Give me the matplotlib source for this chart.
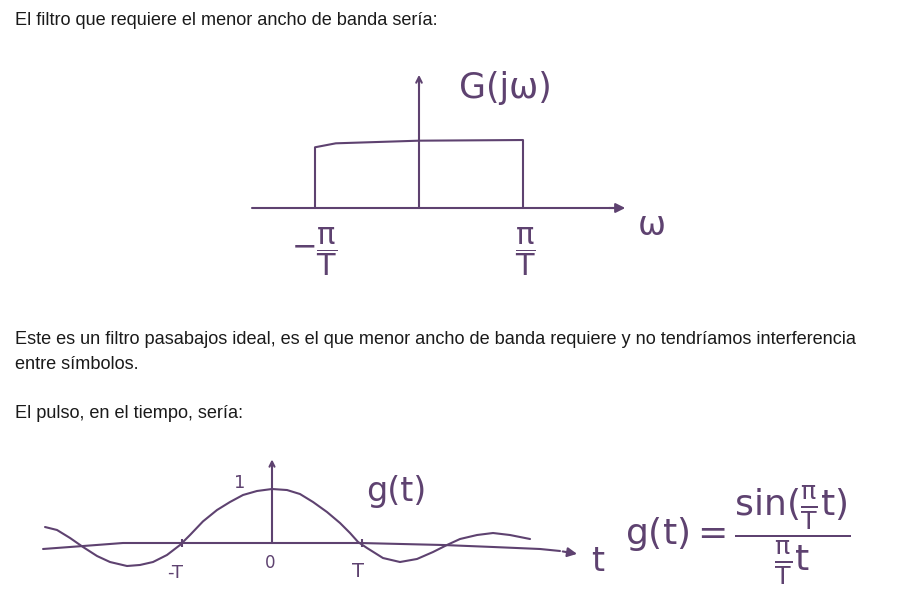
import matplotlib.pyplot as plt

W, H = 900, 609
INK = '#5e4270'
TXT = '#1a1a1a'

# page text
lines = [
    ("El filtro que requiere el menor ancho de banda sería:", 25),
    ("Este es un filtro pasabajos ideal, es el que menor ancho de banda requiere y no tendríamos interferencia", 344),
    ("entre símbolos.", 369),
    ("El pulso, en el tiempo, sería:", 418),
]

# ideal low-pass filter G(jw), w in units of pi/T (hand drawn, slightly uneven top)
band_w = [-1.0, -1.0, -0.8, 0.0, 1.0, 1.0]
band_g = [0.0, 0.92, 0.98, 1.02, 1.03, 0.0]
w_axis = [-1.61, 1.9]

# pulse g(t), t in units of T
pulse_t = [-2.522, -2.389, -2.244, -2.100, -1.944, -1.800, -1.611, -1.467, -1.322,
           -1.167, -1.022, -0.911, -0.767, -0.611, -0.467, -0.322, -0.167, 0.000,
           0.167, 0.311, 0.456, 0.611, 0.756, 0.867, 0.956, 1.056, 1.233, 1.422,
           1.611, 1.789, 1.944, 2.089, 2.278, 2.456, 2.644, 2.867]
pulse_g = [0.296, 0.241, 0.093, -0.074, -0.241, -0.352, -0.426, -0.407, -0.352,
           -0.222, -0.037, 0.148, 0.400, 0.611, 0.759, 0.889, 0.963, 1.000,
           0.981, 0.907, 0.759, 0.574, 0.370, 0.185, 0.019, -0.093, -0.278, -0.352,
           -0.296, -0.167, -0.037, 0.074, 0.148, 0.185, 0.148, 0.074]
t_axis = [-2.544, -2.1, -1.656, 0.0, 0.978, 1.9, 2.456, 2.978, 3.2]
t_axis_g = [-0.111, -0.056, 0.0, 0.0, 0.0, -0.037, -0.074, -0.111, -0.148]
tick_t = [-1.0, 1.0]

plt.rcParams['mathtext.fontset'] = 'dejavusans'
plt.rcParams['mathtext.default'] = 'regular'
fig = plt.figure(figsize=(W / 100, H / 100), dpi=100)


def box_axes(x0, y0, x1, y1, org_x, org_y, sx, sy):
    # axes over a pixel box, data origin at (org_x, org_y), sx/sy pixels per unit
    ax = fig.add_axes([x0 / W, 1 - y1 / H, (x1 - x0) / W, (y1 - y0) / H])
    ax.set_xlim((x0 - org_x) / sx, (x1 - org_x) / sx)
    ax.set_ylim((org_y - y1) / sy, (org_y - y0) / sy)
    ax.axis('off')
    return ax


for s, y in lines:
    fig.text(15 / W, 1 - y / H, s, family='Liberation Sans', fontsize=13.1,
             color=TXT, va='baseline', ha='left')

kw = dict(color=INK, lw=1.5, solid_capstyle='round', solid_joinstyle='round')

# top sketch
ax1 = box_axes(240, 55, 700, 300, 419, 208, 104, 66)
ax1.plot(w_axis, [0, 0], **kw)
ax1.annotate('', xy=(2.01, 0), xytext=(1.8, 0),
             arrowprops=dict(arrowstyle='-|>', color=INK, lw=1.5, mutation_scale=14))
ax1.plot([0, 0], [0, 1.9], **kw)
ax1.annotate('', xy=(0, 2.06), xytext=(0, 1.8),
             arrowprops=dict(arrowstyle='->', color=INK, lw=1.5, mutation_scale=10))
ax1.plot(band_w, band_g, **kw)
ax1.text(0.83, 1.82, 'G(jω)', color=INK, fontsize=25, ha='center', va='center')
ax1.text(2.24, -0.26, 'ω', color=INK, fontsize=24, ha='center', va='center')
ax1.text(-1.01, -0.67, r'$-\dfrac{\pi}{T}$', color=INK, fontsize=22, ha='center', va='center')
ax1.text(1.02, -0.67, r'$\dfrac{\pi}{T}$', color=INK, fontsize=22, ha='center', va='center')

# bottom sketch
ax2 = box_axes(30, 445, 620, 600, 272, 543, 90, 54)
ax2.plot(t_axis, t_axis_g, **kw)
ax2.annotate('', xy=(3.42, -0.21), xytext=(3.2, -0.148),
             arrowprops=dict(arrowstyle='-|>', color=INK, lw=1.5, mutation_scale=14))
ax2.plot([0, 0], [0, 1.45], **kw)
ax2.annotate('', xy=(0, 1.6), xytext=(0, 1.4),
             arrowprops=dict(arrowstyle='->', color=INK, lw=1.5, mutation_scale=9))
ax2.plot(pulse_t, pulse_g, **kw)
ax2.plot(tick_t, [0, 0], ls='none', marker='|', ms=6, mew=1.5, color=INK)
ax2.text(-0.36, 1.12, '1', color=INK, fontsize=13, ha='center', va='center')
ax2.text(-0.02, -0.37, '0', color=INK, fontsize=12, ha='center', va='center')
ax2.text(-1.08, -0.55, '-T', color=INK, fontsize=13, ha='center', va='center')
ax2.text(0.96, -0.52, 'T', color=INK, fontsize=14, ha='center', va='center')
ax2.text(3.62, -0.34, 't', color=INK, fontsize=24, ha='center', va='center')
ax2.text(1.38, 0.96, 'g(t)', color=INK, fontsize=24, ha='center', va='center')

# formula to the right
fig.text(625 / W, 1 - 535 / H, r'$g(t) = \dfrac{\sin(\frac{\pi}{T}t)}{\frac{\pi}{T}t}$',
         color=INK, fontsize=26, ha='left', va='center')

fig.savefig('out.png', dpi=100, facecolor='white')
